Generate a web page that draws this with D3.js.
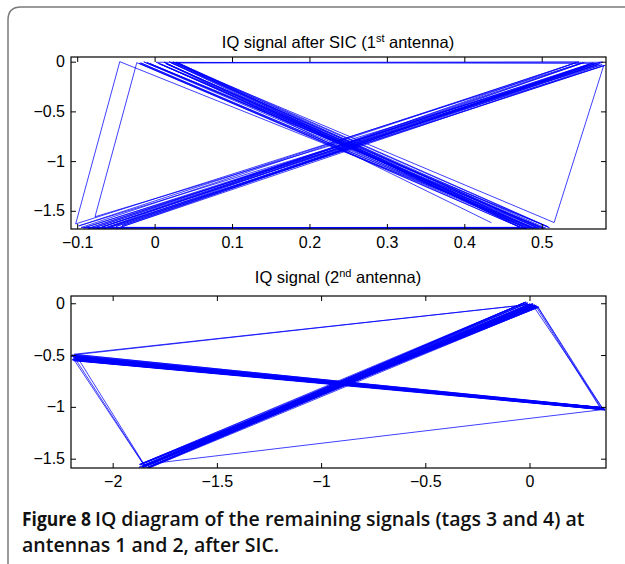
<!DOCTYPE html>
<html>
<head>
<meta charset="utf-8">
<script src="https://cdn.jsdelivr.net/npm/d3@7"></script>
<style>
  body { margin: 0; background: #fff; }
</style>
</head>
<body>
<div class="iq"></div>
<script>
// antenna 1, after SIC: in-phase (I) and quadrature (Q) samples
const i1 = [0.435, 0.012, 0.482, -0.018, 0.474, 0.028, 0.508, -0.006, 0.497, -0.082,
  0.566, -0.048, 0.578, -0.098, 0.548, 0.021, 0.486, -0.014, 0.503, 0.015,
  0.476, 0.030, 0.494, -0.092, 0.582, -0.056, 0.555, -0.074, 0.575, -0.042,
  0.568, 0.002, 0.488, -0.020, 0.472, 0.024, 0.510, 0.008, 0.480, -0.095,
  0.544, -0.065, 0.580, 0.516, 0.027, 0.492, -0.010, 0.500, -0.086, 0.562,
  -0.050, 0.576, -0.078, 0.551, -0.102, -0.045, 0.489, 0.005, 0.496, 0.019,
  0.505, -0.060, 0.572, -0.077, -0.023, 0.481, 0.014, 0.487, -0.090, 0.570,
  -0.068, 0.579, 0.022, 0.474];
const q1 = [-1.620, -0.004, -1.668, -0.012, -1.672, -0.006, -1.660, -0.020, -1.674, -1.670,
  -0.012, -1.676, -0.030, -1.652, -0.002, -0.009, -1.670, -0.002, -1.676, -0.022,
  -1.658, -0.011, -1.668, -1.672, -0.036, -1.662, -0.008, -1.680, -0.022, -1.648,
  -0.018, -0.006, -1.674, -0.016, -1.666, -0.003, -1.670, -0.024, -1.678, -1.668,
  -0.010, -1.674, -0.040, -1.618, -0.016, -1.664, -0.008, -1.670, -1.676, -0.026,
  -1.658, -0.004, -1.672, -0.014, -1.632, 0.000, -1.668, -0.017, -1.662, -0.001,
  -1.673, -1.666, -0.032, -1.560, -0.010, -1.676, -0.013, -1.666, -1.670, -0.016,
  -1.662, -0.006, -0.014, -1.670];

// antenna 2
const i2 = [0.012, 0.352, -2.188, 0.344, -2.176, 0.360, -2.195, 0.348, -2.168, 0.356,
  -2.182, -1.848, 0.035, -1.830, -0.020, -1.866, 0.042, -1.826, 0.018, -1.844,
  -0.008, -1.872, 0.029, 0.341, -2.199, 0.363, -2.172, 0.350, -2.190, 0.346,
  -2.160, 0.358, -2.185, 0.008, -1.832, 0.024, -1.856, -0.016, -1.840, 0.015,
  -1.862, 0.044, -1.824, 0.354, -2.179, 0.343, -2.193, 0.361, -2.166, 0.349,
  -2.184, -1.846, 0.011, -1.868, 0.032, -1.834, -0.010, -1.858, 0.038, 0.345,
  -2.197, 0.357, -2.174, 0.362, -2.188, 0.347, -2.170, -1.838, 0.019, -1.864,
  0.002, -1.828, 0.026, -1.850, -0.022, -1.874, 0.040, 0.353, -2.181, 0.342,
  -2.194, 0.359, -2.177, 0.017, -1.843, 0.030, -1.830, -0.004, -1.856, 0.034];
const q2 = [-0.008, -1.018, -0.522, -1.010, -0.540, -1.026, -0.500, -1.006, -0.552, -1.022,
  -0.528, -1.566, -0.030, -1.584, 0.010, -1.552, -0.036, -1.590, -0.014, -1.572,
  0.002, -1.556, -0.024, -1.015, -0.510, -1.030, -0.546, -1.008, -0.530, -1.020,
  -0.556, -1.014, -0.492, -0.010, -1.588, -0.020, -1.578, 0.012, -1.560, -0.005,
  -1.582, -0.038, -1.550, -1.026, -0.516, -1.007, -0.542, -1.021, -0.524, -1.016,
  -0.550, -1.574, -0.012, -1.560, -0.026, -1.586, 0.004, -1.568, -0.032, -1.019,
  -0.506, -1.011, -0.536, -1.028, -0.554, -1.013, -0.520, -1.590, -0.018, -1.554,
  -0.006, -1.580, -0.016, -1.566, 0.008, -1.584, -0.034, -1.024, -0.531, -1.017,
  -0.546, -1.009, -0.496, -0.007, -1.573, -0.022, -1.558, -0.011, -1.588, -0.019];

const xTicks1 = [-0.1, 0, 0.1, 0.2, 0.3, 0.4, 0.5];
const xTicks2 = [-2, -1.5, -1, -0.5, 0];
const yTicks = [0, -0.5, -1, -1.5];

const W = 625, H = 564;
const axisFont = '"Liberation Sans", Arial, sans-serif';

const svg = d3.select('.iq').append('svg')
    .attr('width', W)
    .attr('height', H);

svg.append('rect').attr('width', W).attr('height', H).attr('fill', '#fff');

// page frame (rounded corner top-left)
svg.append('path')
    .attr('d', 'M8,564 V20 Q8,7 21,7 H625')
    .attr('fill', 'none')
    .attr('stroke', '#7a7a7a')
    .attr('stroke-width', 1.5);

const fmt = d3.format('~g');

function panel(opts) {
    const { left, top, width, height, xs, ys, xDom, yDom, xTicks, id } = opts;
    const x = d3.scaleLinear().domain(xDom).range([0, width]);
    const y = d3.scaleLinear().domain(yDom).range([height, 0]);

    const g = svg.append('g').attr('transform', `translate(${left},${top})`);

    g.append('clipPath').attr('id', id)
        .append('rect').attr('width', width).attr('height', height);

    const line = d3.line()
        .x(i => x(xs[i]))
        .y(i => y(ys[i]));

    g.append('path')
        .attr('clip-path', `url(#${id})`)
        .attr('d', line(d3.range(xs.length)))
        .attr('fill', 'none')
        .attr('stroke', '#0000ff')
        .attr('stroke-width', 0.75);

    const axes = [
        g.append('g').attr('transform', `translate(0,${height})`)
            .call(d3.axisBottom(x).tickValues(xTicks).tickSize(-5).tickPadding(8).tickFormat(fmt)),
        g.append('g')
            .call(d3.axisTop(x).tickValues(xTicks).tickSize(-5).tickFormat('')),
        g.append('g')
            .call(d3.axisLeft(y).tickValues(yTicks).tickSize(-5).tickPadding(6).tickFormat(fmt)),
        g.append('g').attr('transform', `translate(${width},0)`)
            .call(d3.axisRight(y).tickValues(yTicks).tickSize(-5).tickFormat(''))
    ];
    axes.forEach(a => {
        a.select('.domain').remove();
        a.selectAll('text').attr('font-size', 16).attr('fill', '#000')
            .attr('font-family', axisFont);
        a.selectAll('line').attr('stroke', '#000');
    });

    g.append('rect')
        .attr('width', width).attr('height', height)
        .attr('fill', 'none').attr('stroke', '#000').attr('stroke-width', 1.2);
    return g;
}

panel({ left: 71, top: 57, width: 535, height: 172, xs: i1, ys: q1,
        xDom: [-0.108, 0.583], yDom: [-1.683, 0.047], xTicks: xTicks1, id: 'c1' });
panel({ left: 71, top: 296, width: 535, height: 172, xs: i2, ys: q2,
        xDom: [-2.2, 0.367], yDom: [-1.59, 0.07], xTicks: xTicks2, id: 'c2' });

function title(yPos, pre, sup, post) {
    const t = svg.append('text')
        .attr('x', 338).attr('y', yPos)
        .attr('text-anchor', 'middle')
        .attr('font-family', axisFont)
        .attr('font-size', 16.5)
        .attr('fill', '#000');
    t.append('tspan').text(pre);
    t.append('tspan').attr('dy', -6).attr('font-size', 11).text(sup);
    t.append('tspan').attr('dy', 6).text(post);
}
title(48, 'IQ signal after SIC (1', 'st', ' antenna)');
title(283, 'IQ signal (2', 'nd', ' antenna)');

// figure caption
const capFont = '"Open Sans", sans-serif';
const l1 = svg.append('text').attr('x', 22).attr('y', 526)
    .attr('font-family', capFont).attr('font-size', 19.5).attr('fill', '#111');
l1.append('tspan').attr('font-weight', 700)
    .attr('textLength', 69).attr('lengthAdjust', 'spacingAndGlyphs')
    .text('Figure 8');
l1.append('tspan').attr('x', 95).attr('font-weight', 600)
    .text('IQ diagram of the remaining signals (tags 3 and 4) at');
svg.append('text').attr('x', 22).attr('y', 552)
    .attr('font-family', capFont).attr('font-size', 19.5).attr('fill', '#111')
    .attr('font-weight', 600)
    .text('antennas 1 and 2, after SIC.');
</script>
</body>
</html>
